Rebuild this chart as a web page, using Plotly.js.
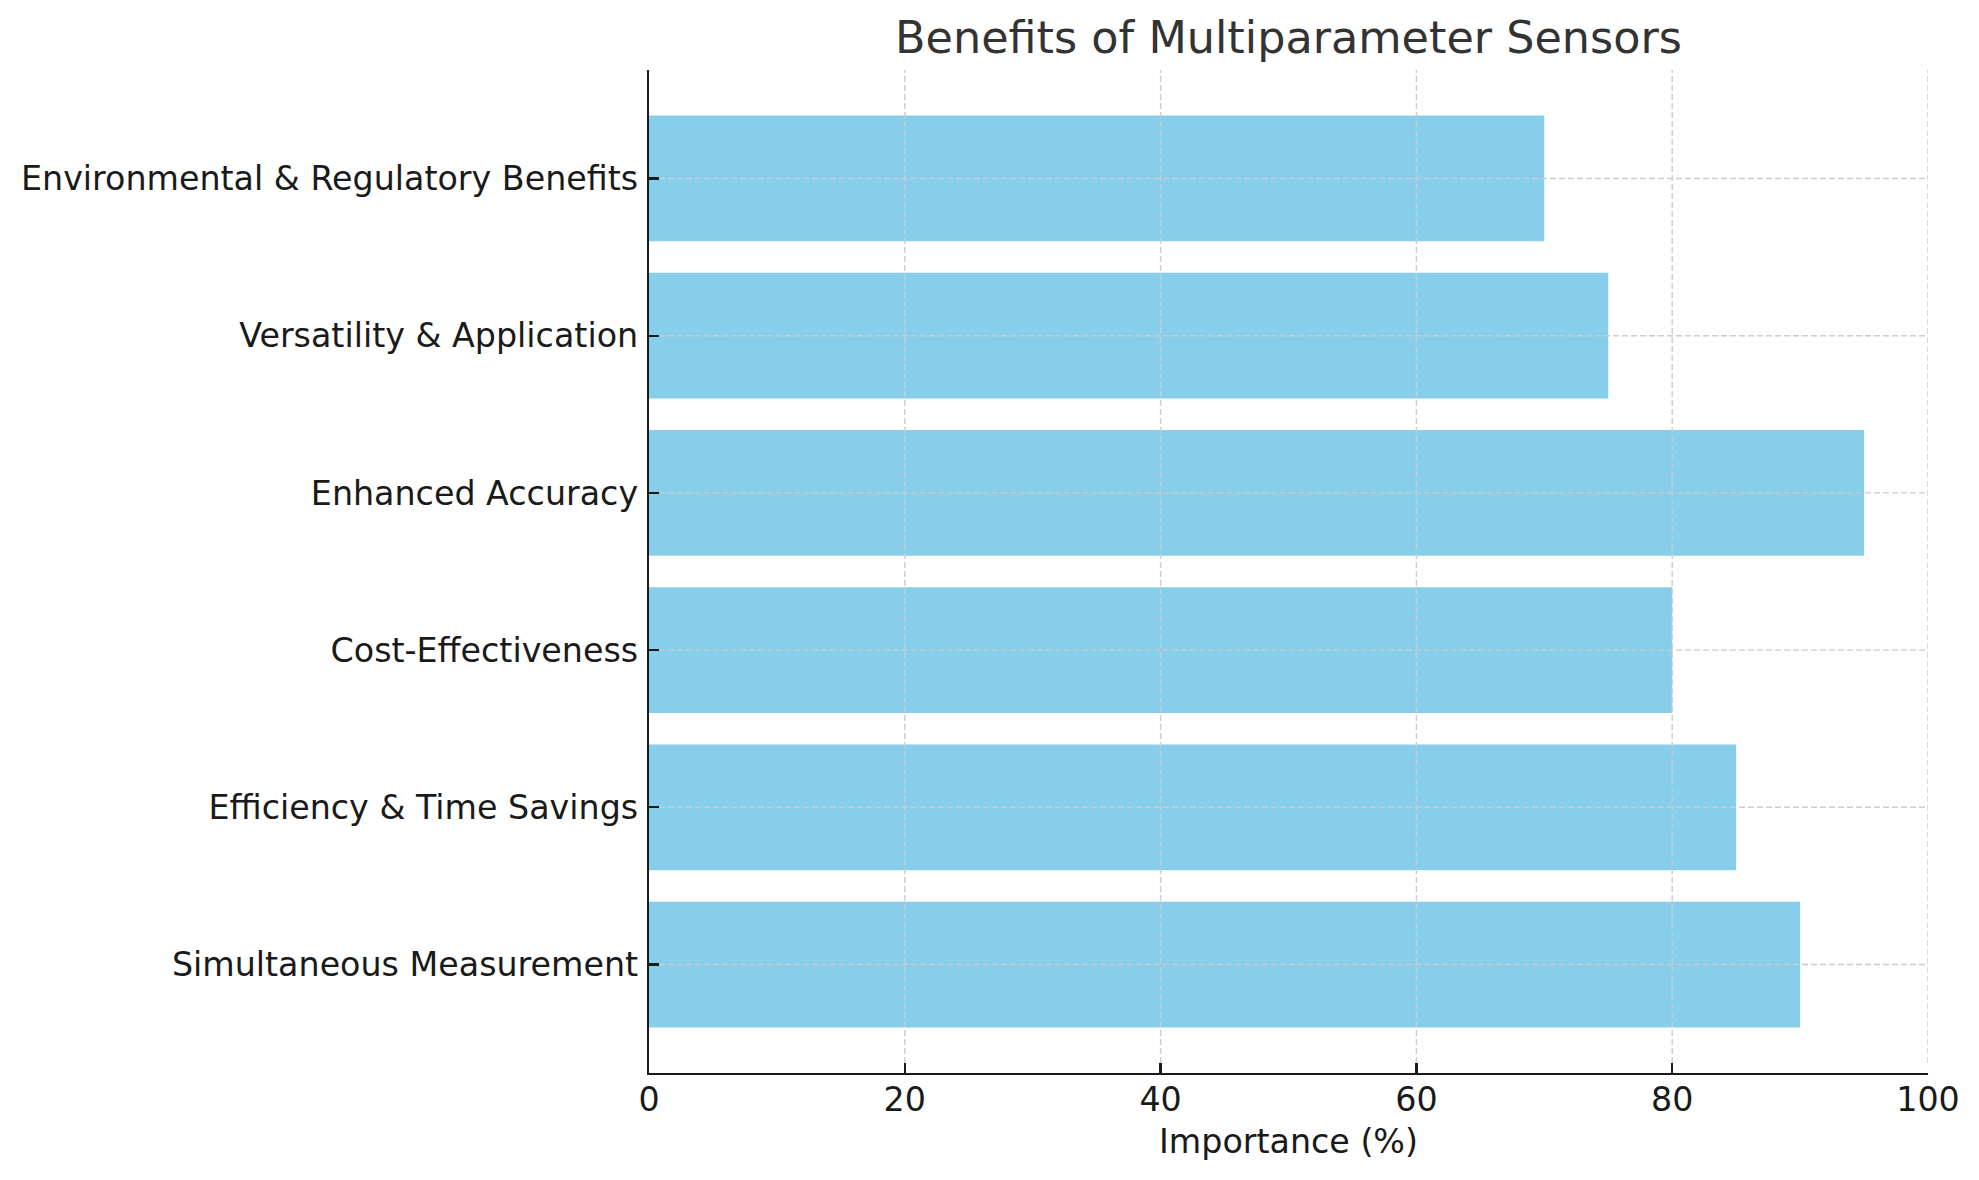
<!DOCTYPE html>
<html>
<head>
<meta charset="utf-8">
<script src="https://cdn.plot.ly/plotly-3.0.1.min.js"></script>
<style>html,body{margin:0;padding:0;background:#fff;}#chart{width:1979px;height:1180px;}</style>
</head>
<body>
<div id="chart"></div>
<script>
// Data (bottom to top, as drawn)
const categories = [
  "Simultaneous Measurement",
  "Efficiency & Time Savings",
  "Cost-Effectiveness",
  "Enhanced Accuracy",
  "Versatility & Application",
  "Environmental & Regulatory Benefits"
];
const importance = [90, 85, 80, 95, 75, 70];
const xTicks = [0, 20, 40, 60, 80, 100];

const chartTitle = "Benefits of Multiparameter Sensors";
const xLabel = "Importance (%)";

const FONT = "DejaVu Sans, sans-serif";
const W = 1979, H = 1180;
const M = {l: 649, r: 51, t: 70, b: 107};
const TICKLEN = 10;
const plotW = W - M.l - M.r, plotH = H - M.t - M.b;
const gridStyle = {color: "#cccccc", width: 1.4, dash: "6px,3px"};

// grid lines drawn above the bars (as in the reference), starting past the inward ticks
const shapes = [];
xTicks.forEach(function (t) {
  if (t === 0) return;
  shapes.push({type: "line", layer: "above", xref: "x", yref: "paper",
    x0: t, x1: t, y0: TICKLEN / plotH, y1: 1, line: gridStyle});
});
categories.forEach(function (c, i) {
  shapes.push({type: "line", layer: "above", xref: "paper", yref: "y",
    x0: TICKLEN / plotW, x1: 1, y0: i, y1: i, line: gridStyle});
});

const trace = {
  type: "bar",
  orientation: "h",
  x: importance,
  y: categories,
  width: 0.8,
  marker: {color: "#87CEEB", line: {width: 0}},
  hoverinfo: "skip"
};

const layout = {
  width: W,
  height: H,
  paper_bgcolor: "#ffffff",
  plot_bgcolor: "#ffffff",
  margin: {l: M.l, r: M.r, t: M.t, b: M.b, pad: 0},
  showlegend: false,
  font: {family: FONT, color: "#1a1a1a", size: 33.3},
  title: {
    text: chartTitle,
    font: {family: FONT, size: 44.5, color: "#333333"},
    x: 0.5, xref: "paper", xanchor: "center",
    y: 1, yref: "paper", yanchor: "bottom",
    pad: {b: 17}
  },
  xaxis: {
    range: [0, 100],
    tickvals: xTicks,
    ticktext: xTicks.map(String),
    showgrid: false,
    zeroline: false,
    showline: true,
    linecolor: "#1a1a1a",
    linewidth: 2.2,
    ticks: "inside",
    ticklen: TICKLEN,
    tickwidth: 2.2,
    tickcolor: "#1a1a1a",
    tickfont: {family: FONT, size: 33.3, color: "#1a1a1a"},
    ticklabelstandoff: -4,
    layer: "above traces",
    fixedrange: true,
    title: {text: xLabel, font: {family: FONT, size: 33.3, color: "#1a1a1a"}, standoff: 12}
  },
  yaxis: {
    type: "category",
    categoryorder: "array",
    categoryarray: categories,
    range: [-0.69, 5.69],
    showgrid: false,
    zeroline: false,
    showline: true,
    linecolor: "#1a1a1a",
    linewidth: 2.2,
    ticks: "inside",
    ticklen: TICKLEN,
    tickwidth: 2.2,
    tickcolor: "#1a1a1a",
    tickfont: {family: FONT, size: 33.3, color: "#1a1a1a"},
    ticklabelstandoff: 2,
    layer: "above traces",
    fixedrange: true
  },
  shapes: shapes,
  bargap: 0.2
};

Plotly.newPlot("chart", [trace], layout, {displayModeBar: false, staticPlot: true});
</script>
</body>
</html>
